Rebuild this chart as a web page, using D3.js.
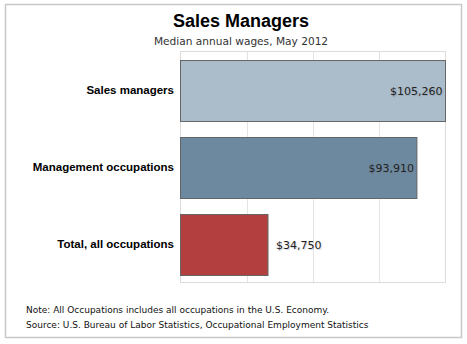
<!DOCTYPE html>
<html>
<head>
<meta charset="utf-8">
<script src="https://cdn.jsdelivr.net/npm/d3@7"></script>
<style>
  html, body { margin: 0; padding: 0; background: #fff; }
  svg { display: block; }
  .val { text-shadow: 1px 1px 1px rgba(120,120,140,0.35); }
</style>
</head>
<body>
<svg id="chart" width="467" height="344"></svg>
<script>
// Median annual wages, May 2012
const categories = ["Sales managers", "Management occupations", "Total, all occupations"];
const wages = [105260, 93910, 34750];
const barColors = ["#abbdca", "#6d899f", "#b33f3f"];
const gridTicks = 4;

const svg = d3.select("#chart");

// outer frame
svg.append("rect")
  .attr("x", 5.5).attr("y", 4.5)
  .attr("width", 456).attr("height", 333)
  .attr("fill", "#fff").attr("stroke", "#c8c8c8").attr("stroke-width", 1.5);

// titles
svg.append("text")
  .attr("x", 241).attr("y", 27)
  .attr("text-anchor", "middle")
  .style("font-family", "Liberation Sans, Arial, sans-serif")
  .style("font-weight", "bold").style("font-size", "18px")
  .attr("fill", "#000")
  .text("Sales Managers");

svg.append("text")
  .attr("x", 241).attr("y", 45)
  .attr("text-anchor", "middle")
  .style("font-family", "DejaVu Sans, sans-serif")
  .style("font-size", "10.6px")
  .attr("fill", "#333")
  .text("Median annual wages, May 2012");

const plot = { left: 180.5, right: 445.5, top: 51.5, bottom: 282.5 };

const x = d3.scaleLinear()
  .domain([0, d3.max(wages)])
  .range([plot.left, plot.right]);

const y = d3.scaleBand()
  .domain(categories)
  .range([plot.top, plot.bottom])
  .paddingInner(0.21)
  .paddingOuter(0.105);

// gridlines
const gridVals = d3.range(1, gridTicks).map(i => x.domain()[1] * i / gridTicks);
svg.append("g")
  .selectAll("line")
  .data(gridVals)
  .join("line")
  .attr("x1", d => Math.round(x(d)) + 0.5).attr("x2", d => Math.round(x(d)) + 0.5)
  .attr("y1", plot.top).attr("y2", plot.bottom)
  .attr("stroke", "#e4e4e4").attr("stroke-width", 1);

// plot frame
svg.append("rect")
  .attr("x", plot.left).attr("y", plot.top)
  .attr("width", plot.right - plot.left).attr("height", plot.bottom - plot.top)
  .attr("fill", "none").attr("stroke", "#dcdcdc").attr("stroke-width", 1);

// bars
svg.append("g")
  .selectAll("rect")
  .data(categories)
  .join("rect")
  .attr("x", x(0))
  .attr("y", d => Math.round(y(d)) + 0.5)
  .attr("width", (d, i) => x(wages[i]) - x(0))
  .attr("height", Math.round(y.bandwidth()))
  .attr("fill", (d, i) => barColors[i])
  .attr("stroke", "#666").attr("stroke-width", 1);

// category labels
svg.append("g")
  .selectAll("text")
  .data(categories)
  .join("text")
  .attr("x", 174)
  .attr("y", d => y(d) + y.bandwidth() / 2 + 4)
  .attr("text-anchor", "end")
  .style("font-family", "Liberation Sans, Arial, sans-serif")
  .style("font-weight", "bold").style("font-size", "11.5px")
  .attr("fill", "#000")
  .text(d => d);

// value labels: inside the bar when wide enough, otherwise just past its end
const fmt = v => "$" + d3.format(",")(v);
svg.append("g")
  .selectAll("text")
  .data(categories)
  .join("text")
  .attr("class", "val")
  .attr("x", (d, i) => {
    const w = x(wages[i]) - x(0);
    return w > 120 ? x(wages[i]) - 3 : x(wages[i]) + 8;
  })
  .attr("y", d => y(d) + y.bandwidth() / 2 + 4.5)
  .attr("text-anchor", (d, i) => (x(wages[i]) - x(0) > 120 ? "end" : "start"))
  .style("font-family", "DejaVu Sans, sans-serif")
  .style("font-size", "11px")
  .attr("fill", "#222")
  .text((d, i) => fmt(wages[i]));

// notes
const notes = [
  "Note: All Occupations includes all occupations in the U.S. Economy.",
  "Source: U.S. Bureau of Labor Statistics, Occupational Employment Statistics"
];
svg.append("g")
  .selectAll("text")
  .data(notes)
  .join("text")
  .attr("x", 26)
  .attr("y", (d, i) => 313 + i * 15)
  .style("font-family", "DejaVu Sans, sans-serif")
  .style("font-size", "9px")
  .attr("fill", "#111")
  .text(d => d);
</script>
</body>
</html>
